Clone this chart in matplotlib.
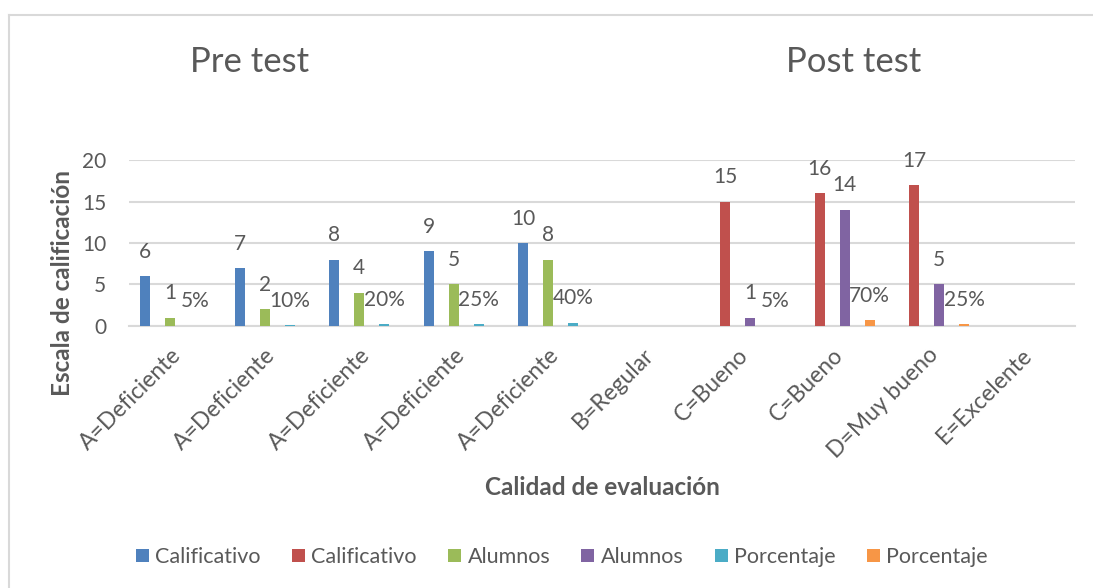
import numpy as np
import matplotlib
matplotlib.use("Agg")
import matplotlib.pyplot as plt
from matplotlib.lines import Line2D
from matplotlib.transforms import ScaledTranslation

plt.rcParams['font.family'] = ['Lato', 'DejaVu Sans']

nan = np.nan
categories = ["A=Deficiente", "A=Deficiente", "A=Deficiente", "A=Deficiente",
              "A=Deficiente", "B=Regular", "C=Bueno", "C=Bueno", "D=Muy bueno",
              "E=Excelente"]
calificativo_pre = [6, 7, 8, 9, 10, nan, nan, nan, nan, nan]
calificativo_post = [nan, nan, nan, nan, nan, nan, 15, 16, 17, nan]
alumnos_pre = [1, 2, 4, 5, 8, nan, nan, nan, nan, nan]
alumnos_post = [nan, nan, nan, nan, nan, nan, 1, 14, 5, nan]
porcentaje_pre = [0.05, 0.10, 0.20, 0.25, 0.40, nan, nan, nan, nan, nan]
porcentaje_post = [nan, nan, nan, nan, nan, nan, 0.05, 0.70, 0.25, nan]

series = [
    ("Calificativo", calificativo_pre, "#4F81BD", False),
    ("Calificativo", calificativo_post, "#C0504D", False),
    ("Alumnos", alumnos_pre, "#9BBB59", False),
    ("Alumnos", alumnos_post, "#8064A2", False),
    ("Porcentaje", porcentaje_pre, "#4BACC6", True),
    ("Porcentaje", porcentaje_post, "#F79646", True),
]

TXT = "#595959"
GRID = "#D9D9D9"

fig = plt.figure(figsize=(10.93, 5.88), dpi=100)
ax = fig.add_axes([129/1093, 1-326/588, 946/1093, 166/588])

x = np.arange(len(categories))
slot = 0.132
width = 0.106
handles = []
for i, (name, vals, color, pct) in enumerate(series):
    off = (i - 2.5) * slot
    v = np.array(vals, dtype=float)
    bars = ax.bar(x + off, v, width=width, color=color, label=name, zorder=3)
    handles.append(bars)
    for xi, val in zip(x + off, v):
        if np.isnan(val):
            continue
        lab = f"{val*100:.0f}%" if pct else f"{val:.0f}"
        ax.annotate(lab, (xi, val), xytext=(0, 17.5), textcoords="offset points",
                    ha="center", va="center", fontsize=15, color=TXT)

ax.set_xlim(-0.5, len(categories) - 0.5)
ax.set_ylim(0, 20)
ax.set_yticks([0, 5, 10, 15, 20])
ax.yaxis.grid(True, color=GRID, linewidth=1.5, zorder=0)
ax.set_axisbelow(True)
for s in ["top", "right", "left"]:
    ax.spines[s].set_visible(False)
ax.spines["bottom"].set_color(GRID)
ax.spines["bottom"].set_linewidth(1.5)
ax.tick_params(axis="y", length=0, pad=16.5, labelsize=15, labelcolor=TXT)
ax.tick_params(axis="x", length=0, pad=13, labelsize=16.5, labelcolor=TXT)

ax.set_xticks(x)
ax.set_xticklabels(categories, rotation=45, ha="right", va="top",
                   rotation_mode="anchor")
shift = ScaledTranslation(-6/100, 0, fig.dpi_scale_trans)
for lab in ax.get_xticklabels():
    lab.set_transform(lab.get_transform() + shift)

ax.set_xlabel("Calidad de evaluación", fontsize=17.5, fontweight="bold",
              color=TXT, va="baseline")
ax.xaxis.set_label_coords(0.5, -1.018)

fig.text(62/1093, 1-283/588, "Escala de calificación", fontsize=17.5,
         fontweight="bold", color=TXT, rotation=90, ha="center", va="center")

fig.text(250/1093, 1-72/588, "Pre test", fontsize=25, color=TXT,
         ha="center", va="baseline")
fig.text(854/1093, 1-72/588, "Post test", fontsize=25, color=TXT,
         ha="center", va="baseline")

leg = fig.legend(handles=handles, labels=[s[0] for s in series],
                 loc="center", bbox_to_anchor=(562/1093, 1-557/588), ncol=6,
                 frameon=False, fontsize=15.5, handlelength=0.6, handleheight=0.6,
                 handletextpad=0.3, columnspacing=1.45, labelcolor=TXT)

fig.add_artist(Line2D([8.5/1093, 8.5/1093], [0, 1-14.5/588], color=GRID,
                      linewidth=1.5, transform=fig.transFigure))
fig.add_artist(Line2D([8.5/1093, 1], [1-14.5/588, 1-14.5/588], color=GRID,
                      linewidth=1.5, transform=fig.transFigure))

fig.savefig("out.png", dpi=100)
